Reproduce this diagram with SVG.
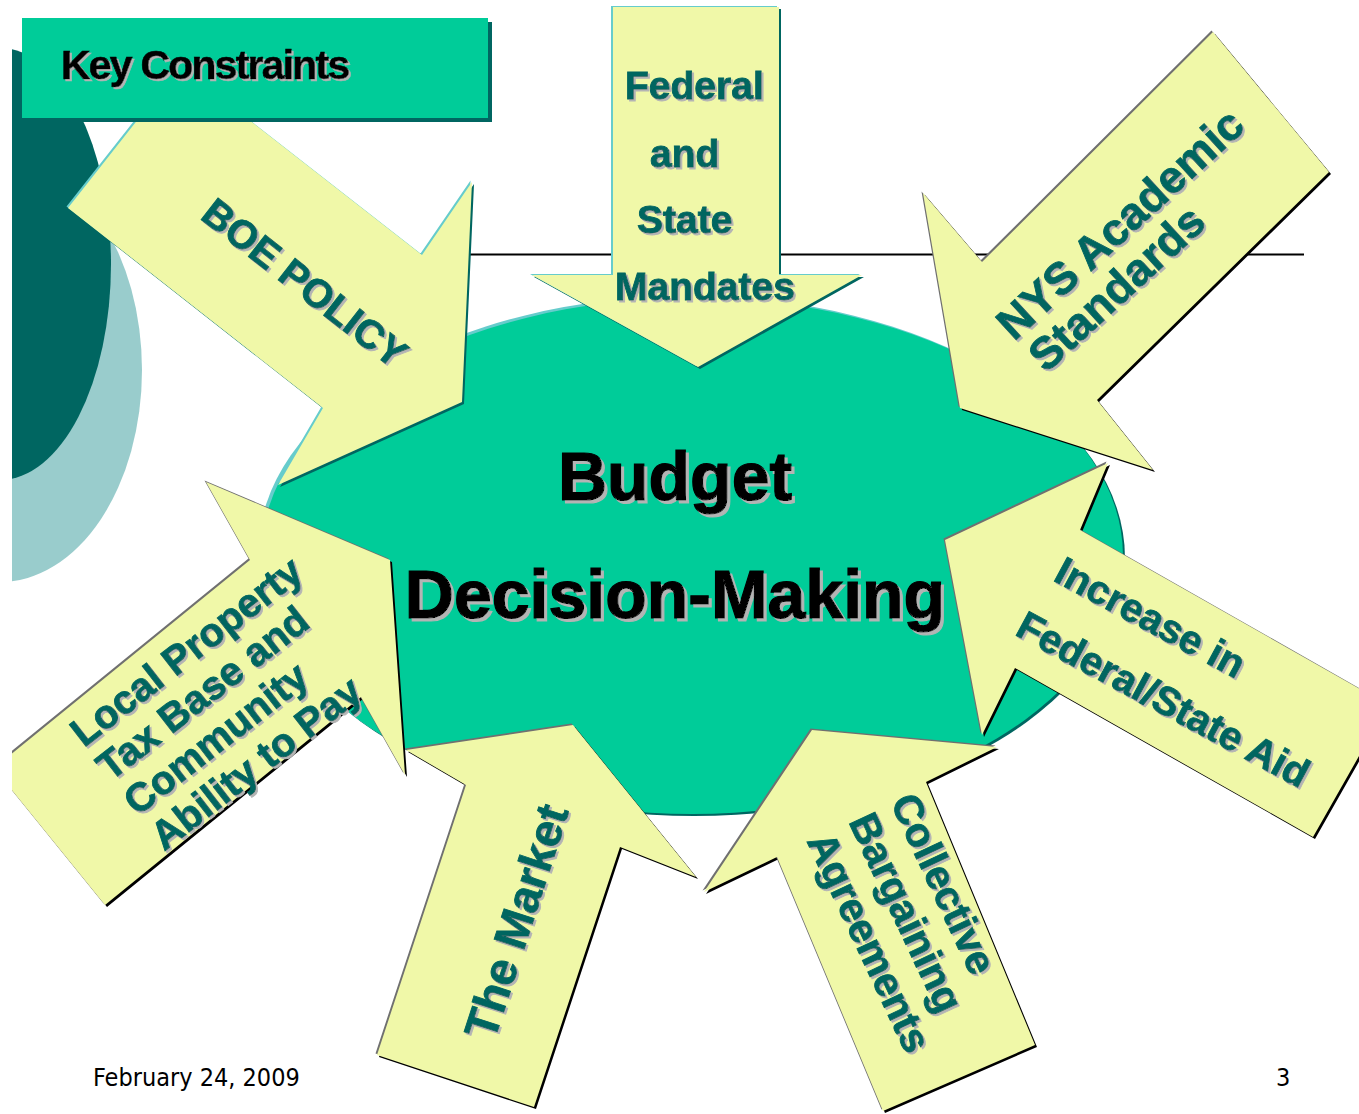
<svg xmlns="http://www.w3.org/2000/svg" xmlns:xlink="http://www.w3.org/1999/xlink" width="1359" height="1114" viewBox="0 0 1359 1114">
  <style>
    .body { fill: #F0F8A8; }
    .hl-cyan { fill: #66CCCC; }
    .sd-teal { fill: #006661; }
    .hl-gray { fill: #707070; }
    .sd-black { fill: #000000; }
    .lbl { font-family: "Liberation Sans", Arial, sans-serif; font-weight: bold; fill: #006661; stroke: #006661; stroke-width: 0.9px; }
    .big { font-family: "Liberation Sans", Arial, sans-serif; font-weight: bold; fill: #000000; stroke: #000000; stroke-width: 1.2px; font-size: 68px; text-anchor: middle; }
    .foot { font-family: "DejaVu Sans Condensed", "DejaVu Sans", sans-serif; font-size: 25px; fill: #000000; }
  </style>
  <defs>
    <clipPath id="slide">
      <rect x="12" y="0" width="1347" height="1114"/>
    </clipPath>
    <filter id="tsh" x="-5%" y="-5%" width="110%" height="110%">
      <feDropShadow dx="2" dy="2" stdDeviation="0" flood-color="#B4B4B4" flood-opacity="1"/>
    </filter>
    <filter id="tsh3" x="-5%" y="-5%" width="110%" height="110%">
      <feDropShadow dx="3" dy="3" stdDeviation="0" flood-color="#B4B4B4" flood-opacity="1"/>
    </filter>
    <!-- block arrow outlines -->
    <polygon id="p-fed" points="613,7 779,7 779,275 862,275 698,367 532,275 613,275"/>
    <polygon id="p-boe" points="180,66 422,255 472,182 462,402 278,485 323,408 68,208"/>
    <polygon id="p-nys" points="1213,32 1329,172 1097,400 1153,470 960,408 923,193 982,262"/>
    <polygon id="p-aid" points="945,540 1108,463 1080,530 1388,705 1313,837 1015,668 982,735"/>
    <polygon id="p-cba" points="812,730 997,747 926,782 1035,1045 883,1111 777,857 704,892"/>
    <polygon id="p-mkt" points="573,725 696,877 620,847 534,1107 377,1055 466,785 406,750"/>
    <polygon id="p-loc" points="390,560 405,775 361,697 105,905 -6,768 250,560 206,482"/>
  </defs>

  <g clip-path="url(#slide)">
    <!-- left-edge decoration -->
    <g id="decor">
      <ellipse cx="0" cy="370" rx="142" ry="212" fill="#99CCCC"/>
      <ellipse cx="0" cy="264" rx="111" ry="216" fill="#006661"/>
    </g>

    <!-- rule line -->
    <line x1="400" y1="254.5" x2="1304" y2="254.5" stroke="#000" stroke-width="2"/>

    <!-- central hub -->
    <g id="hub">
      <ellipse cx="694" cy="558" rx="431" ry="258" fill="#006661"/>
      <ellipse cx="689" cy="554" rx="431" ry="258" fill="#66CCCC"/>
      <ellipse cx="692" cy="556" rx="431" ry="258" fill="#00CC99"/>
    </g>

    <g id="federal">
      <use xlink:href="#p-fed" class="sd-teal" transform="translate(2,2)"/>
      <use xlink:href="#p-fed" class="hl-cyan" transform="translate(-2,-1)"/>
      <use xlink:href="#p-fed" class="body"/>
      <g filter="url(#tsh)">
        <text class="lbl" font-size="39" x="625" y="99">Federal</text>
        <text class="lbl" font-size="39" x="650" y="167">and</text>
        <text class="lbl" font-size="39" x="637" y="233">State</text>
        <text class="lbl" font-size="39" x="615" y="300">Mandates</text>
      </g>
    </g>

    <g id="nys">
      <use xlink:href="#p-nys" class="sd-black" transform="translate(2,2)"/>
      <use xlink:href="#p-nys" class="hl-gray" transform="translate(-1.5,-1.5)"/>
      <use xlink:href="#p-nys" class="body"/>
      <g filter="url(#tsh)">
        <text class="lbl" font-size="45" transform="translate(1014,342) rotate(-42.5)">
          <tspan x="0" y="0">NYS Academic</tspan>
          <tspan x="2" y="45">Standards</tspan>
        </text>
      </g>
    </g>

    <g id="aid">
      <use xlink:href="#p-aid" class="sd-black" transform="translate(2,2)"/>
      <use xlink:href="#p-aid" class="hl-gray" transform="translate(-1.5,-1.5)"/>
      <use xlink:href="#p-aid" class="body"/>
      <g filter="url(#tsh)">
        <text class="lbl" font-size="40" transform="translate(1052,580) rotate(28.3)">
          <tspan x="0" y="0">Increase in</tspan>
          <tspan x="-8" y="66">Federal/State Aid</tspan>
        </text>
      </g>
    </g>

    <g id="cba">
      <use xlink:href="#p-cba" class="sd-black" transform="translate(2,2)"/>
      <use xlink:href="#p-cba" class="hl-gray" transform="translate(-1.5,-1.5)"/>
      <use xlink:href="#p-cba" class="body"/>
      <g filter="url(#tsh)">
        <text class="lbl" font-size="41" transform="translate(890,802) rotate(65)">
          <tspan x="0" y="0">Collective</tspan>
          <tspan x="0" y="46">Bargaining</tspan>
          <tspan x="0" y="92">Agreements</tspan>
        </text>
      </g>
    </g>

    <g id="market">
      <use xlink:href="#p-mkt" class="sd-black" transform="translate(2,2)"/>
      <use xlink:href="#p-mkt" class="hl-gray" transform="translate(-1.5,-1.5)"/>
      <use xlink:href="#p-mkt" class="body"/>
      <g filter="url(#tsh)">
        <text class="lbl" font-size="46" transform="translate(494,1042) rotate(-72)">The Market</text>
      </g>
    </g>

    <g id="local">
      <use xlink:href="#p-loc" class="sd-black" transform="translate(2,2)"/>
      <use xlink:href="#p-loc" class="hl-gray" transform="translate(-1.5,-1.5)"/>
      <use xlink:href="#p-loc" class="body"/>
      <g filter="url(#tsh)">
        <text class="lbl" font-size="40" transform="translate(84,748) rotate(-37.8)">
          <tspan x="0" y="0">Local Property</tspan>
          <tspan x="0" y="43">Tax Base and</tspan>
          <tspan x="0" y="87">Community</tspan>
          <tspan x="0" y="131">Ability to Pay</tspan>
        </text>
      </g>
    </g>

    <g id="boe">
      <use xlink:href="#p-boe" class="sd-teal" transform="translate(2,2)"/>
      <use xlink:href="#p-boe" class="hl-cyan" transform="translate(-1.5,-1.5)"/>
      <use xlink:href="#p-boe" class="body"/>
      <g filter="url(#tsh)">
        <text class="lbl" font-size="40" transform="translate(199,218) rotate(38)">BOE POLICY</text>
      </g>
    </g>

    <!-- title banner -->
    <g id="title">
      <rect x="26" y="22" width="466" height="100" fill="#006661"/>
      <rect x="22" y="18" width="466" height="100" fill="#00CC99"/>
      <g filter="url(#tsh)">
        <text x="61" y="79" font-family="'Liberation Sans', Arial, sans-serif" font-weight="bold" font-size="41" letter-spacing="-1.8" fill="#000" stroke="#000" stroke-width="0.6">Key Constraints</text>
      </g>
    </g>

    <!-- hub caption -->
    <g id="caption" filter="url(#tsh3)">
      <text class="big" x="675" y="500">Budget</text>
      <text class="big" x="675" y="618">Decision-Making</text>
    </g>

    <!-- footer -->
    <g id="footer">
      <text class="foot" x="93" y="1086">February 24, 2009</text>
      <text class="foot" x="1276" y="1086">3</text>
    </g>
  </g>
</svg>
